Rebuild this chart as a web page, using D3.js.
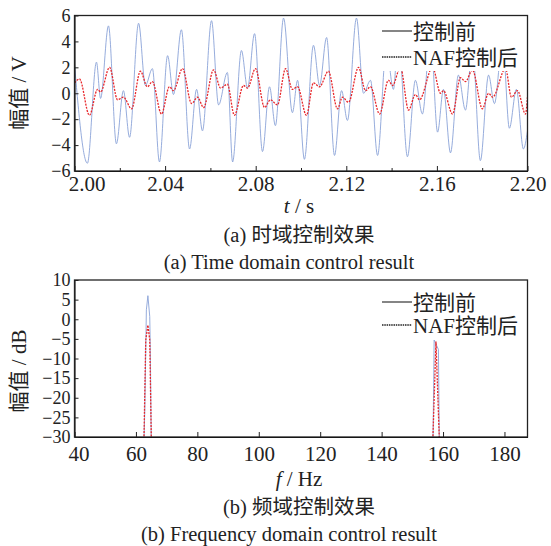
<!DOCTYPE html>
<html>
<head>
<meta charset="utf-8">
<script src="https://cdn.jsdelivr.net/npm/d3@7"></script>
<style>
  body { margin: 0; background: #fff; }
  svg text { font-family: "Liberation Serif", "Times New Roman", "Noto Sans CJK SC", serif; fill: #222; }
</style>
</head>
<body>
<svg id="chart" width="551" height="546"></svg>
<script>
// time domain, before control (blue)
var timeBefore = [2.0000, 2.0057, 2.0097, 2.0115, 2.0150, 2.0185, 2.0216, 2.0243, 2.0283, 2.0313,
  2.0344, 2.0375, 2.0411, 2.0437, 2.0472, 2.0508, 2.0539, 2.0565, 2.0605, 2.0636,
  2.0675, 2.0698, 2.0737, 2.0764, 2.0795, 2.0830, 2.0861, 2.0887, 2.0923, 2.0962,
  2.0985, 2.1015, 2.1055, 2.1082, 2.1113, 2.1148, 2.1179, 2.1205, 2.1245, 2.1276,
  2.1307, 2.1338, 2.1377, 2.1408, 2.1430, 2.1470, 2.1505, 2.1536, 2.1572, 2.1603,
  2.1629, 2.1660, 2.1695, 2.1726, 2.1757, 2.1792, 2.1828, 2.1854, 2.1890, 2.1920,
  2.1951, 2.1982, 2.2000];
var voltBefore = [2.2, -5.4, 2.4, -0.4, 5.2, -3.9, 0.2, -3.4, 5.4, 0.6,
  1.9, -5.3, 2.9, -0.1, 4.9, -4.3, 0.3, -2.9, 5.6, -0.9,
  1.6, -5.3, 3.3, 0.4, 4.6, -4.5, 0.5, -2.5, 5.8, -1.5,
  1.0, -5.1, 3.7, 0.6, 4.3, -4.8, 0.2, -2.1, 5.8, 0.0,
  1.0, -4.8, 3.5, 0.3, 4.5, -4.9, 1.0, -1.6, 4.5, -3.0,
  0.3, -4.6, 1.4, -1.3, 3.5, -5.2, 1.4, -0.8, 4.0, -2.7,
  0.3, -4.3, -2.9];

// time domain, after NAF control (red)
var timeAfter = [2.0000, 2.0022, 2.0066, 2.0102, 2.0115, 2.0155, 2.0190, 2.0216, 2.0252, 2.0291,
  2.0322, 2.0344, 2.0384, 2.0419, 2.0437, 2.0477, 2.0517, 2.0543, 2.0570, 2.0614,
  2.0645, 2.0675, 2.0706, 2.0746, 2.0764, 2.0799, 2.0839, 2.0865, 2.0896, 2.0932,
  2.0962, 2.0985, 2.1024, 2.1055, 2.1082, 2.1121, 2.1161, 2.1183, 2.1210, 2.1254,
  2.1285, 2.1307, 2.1347, 2.1386, 2.1404, 2.1439, 2.1475, 2.1505, 2.1523, 2.1581,
  2.1616, 2.1629, 2.1669, 2.1704, 2.1726, 2.1757, 2.1801, 2.1828, 2.1846, 2.1903,
  2.1929, 2.1956, 2.1991, 2.2000];
var voltAfter = [0.8, 1.1, -1.7, 0.3, 0.1, 2.0, -0.5, -0.3, -1.2, 1.7,
  0.5, 0.9, -1.6, 0.5, 0.2, 1.9, -0.8, -0.3, -1.1, 1.8,
  0.4, 0.7, -1.7, 0.6, 0.4, 1.9, -1.1, -0.5, -0.9, 1.9,
  0.3, 0.5, -1.7, 0.8, 0.5, 1.7, -1.2, -0.3, -0.7, 2.0,
  0.2, 0.5, -1.6, 1.0, 0.6, 2.0, -1.3, -0.1, -0.5, 2.0,
  0.0, 0.2, -1.6, 1.2, 0.9, 1.8, -1.2, 0.0, -0.3, 1.9,
  -0.3, 0.2, -1.6, -0.3];

// frequency domain
var freqBefore = [40, 62.3, 62.9, 63.4, 63.9, 64.5, 64.7, 65.1, 156.6, 157.1, 157.8, 158.5, 158.9, 187.5];
var dbBefore = [-40, -40, -23, 2.4, 6.0, 0.7, -8, -40, -40, -5.3, -6.5, -7.7, -40, -40];
var freqAfter = [40, 62.4, 63.2, 63.9, 64.5, 65.2, 156.3, 157.7, 159.2, 187.5];
var dbAfter = [-40, -40, -5.3, -1.5, -5.3, -40, -40, -5.7, -40, -40];

var timeTicks = [2.00, 2.04, 2.08, 2.12, 2.16, 2.20];
var timeMinor = [2.02, 2.06, 2.10, 2.14, 2.18];
var voltTicks = [-6, -4, -2, 0, 2, 4, 6];
var freqTicks = [40, 60, 80, 100, 120, 140, 160, 180];
var dbTicks = [-30, -25, -20, -15, -10, -5, 0, 5, 10];
var legendNames = ["控制前", "NAF控制后"];

var blue = "#8aa3d8", red = "#e8262a";
var serif = '"Liberation Serif", "Times New Roman", "Noto Sans CJK SC", serif';
var svg = d3.select("#chart");
var left = 74.5, right = 527.5;

function drawPanel(opt) {
  var g = svg.append("g");
  var x = d3.scaleLinear().domain(opt.xDomain).range([left, right]);
  var y = d3.scaleLinear().domain(opt.yDomain).range([opt.bottom, opt.top]);

  g.append("clipPath").attr("id", opt.id)
    .append("rect").attr("x", left).attr("y", opt.top)
    .attr("width", right - left).attr("height", opt.bottom - opt.top);

  var line = d3.line().x(function(d) { return x(d[0]); }).y(function(d) { return y(d[1]); }).curve(opt.curve);

  var plot = g.append("g").attr("clip-path", "url(#" + opt.id + ")");
  plot.append("path").datum(d3.zip(opt.xs1, opt.ys1)).attr("d", line)
    .attr("fill", "none").attr("stroke", blue).attr("stroke-width", 0.9);
  plot.append("path").datum(d3.zip(opt.xs2, opt.ys2)).attr("d", line)
    .attr("fill", "none").attr("stroke", red).attr("stroke-width", 1.3)
    .attr("stroke-dasharray", "2,1.2");

  // legend with white background
  g.append("rect").attr("x", 378).attr("y", opt.top + 1).attr("width", right - 378 - 1)
    .attr("height", opt.legendBottom - opt.top - 1).attr("fill", "#fff");
  legendNames.forEach(function(name, i) {
    var ly = opt.legendY[i];
    g.append("line").attr("x1", 382).attr("x2", 412).attr("y1", ly).attr("y2", ly)
      .attr("stroke", "#222").attr("stroke-width", i === 0 ? 1.1 : 1.3)
      .attr("stroke-dasharray", i === 0 ? null : "1.5,0.8");
    g.append("text").attr("x", 413).attr("y", ly + 7.5).style("font-size", "21px").text(name);
  });

  // axes, ticks pointing inward
  var xAxis = d3.axisBottom(x).tickValues(opt.xTicks).tickFormat(opt.xFormat)
    .tickSizeInner(-5).tickSizeOuter(0).tickPadding(opt.xPad);
  var gx = g.append("g").attr("transform", "translate(0," + opt.bottom + ")").call(xAxis)
    .attr("font-family", serif);
  gx.selectAll("text").style("font-family", serif).style("font-size", opt.xFont + "px").attr("fill", "#222");
  gx.select(".tick text").attr("dx", opt.firstShift);
  if (opt.xMinor) {
    g.append("g").attr("transform", "translate(0," + opt.bottom + ")")
      .call(d3.axisBottom(x).tickValues(opt.xMinor).tickFormat("").tickSizeInner(-3).tickSizeOuter(0))
      .select(".domain").remove();
  }
  var yAxis = d3.axisLeft(y).tickValues(opt.yTicks).tickFormat(function(d) { return d < 0 ? "\u2212" + (-d) : d; })
    .tickSizeInner(-4).tickSizeOuter(0).tickPadding(4);
  var gy = g.append("g").attr("transform", "translate(" + left + ",0)").call(yAxis)
    .attr("font-family", serif);
  gy.selectAll("text").style("font-family", serif).style("font-size", opt.yFont + "px").attr("fill", "#222");
  g.selectAll(".tick line").attr("stroke", "#222");

  g.append("rect").attr("x", left).attr("y", opt.top).attr("width", right - left)
    .attr("height", opt.bottom - opt.top).attr("fill", "none").attr("stroke", "#222").attr("stroke-width", 1.3);

  g.append("text").attr("transform", "translate(26," + opt.yLabelY + ") rotate(-90)")
    .attr("text-anchor", "middle").style("font-size", "21px").text(opt.yLabel);

  var xl = g.append("text").attr("x", 299).attr("y", opt.capY[0]).attr("text-anchor", "middle").style("font-size", "21px");
  xl.append("tspan").style("font-style", "italic").text(opt.xVar);
  xl.append("tspan").text(" / " + opt.xUnit);
  g.append("text").attr("x", 299).attr("y", opt.capY[1]).attr("text-anchor", "middle").style("font-size", "20.5px").text(opt.cap1);
  g.append("text").attr("x", 289).attr("y", opt.capY[2]).attr("text-anchor", "middle").style("font-size", "20.5px").text(opt.cap2);
}

drawPanel({
  id: "clipA", top: 15.5, bottom: 171, xDomain: [2.0, 2.2], yDomain: [-6, 6],
  xs1: timeBefore, ys1: voltBefore, xs2: timeAfter, ys2: voltAfter, curve: d3.curveMonotoneX,
  legendBottom: 71, legendY: [31, 57],
  xTicks: timeTicks, xMinor: timeMinor, xFormat: d3.format(".2f"), xPad: 5, xFont: 21, firstShift: 12,
  yTicks: voltTicks, yFont: 18, yLabel: "幅值 / V", yLabelY: 93,
  xVar: "t", xUnit: "s", capY: [213, 242, 269],
  cap1: "(a)  时域控制效果", cap2: "(a)  Time domain control result"
});

drawPanel({
  id: "clipB", top: 280, bottom: 437, xDomain: [40, 187.5], yDomain: [-30, 10],
  xs1: freqBefore, ys1: dbBefore, xs2: freqAfter, ys2: dbAfter, curve: d3.curveLinear,
  legendBottom: 337, legendY: [302, 325],
  xTicks: freqTicks, xMinor: null, xFormat: d3.format("d"), xPad: 9, xFont: 21, firstShift: 4,
  yTicks: dbTicks, yFont: 18, yLabel: "幅值 / dB", yLabelY: 371,
  xVar: "f", xUnit: "Hz", capY: [486, 514, 541],
  cap1: "(b)  频域控制效果", cap2: "(b)  Frequency domain control result"
});
</script>
</body>
</html>
